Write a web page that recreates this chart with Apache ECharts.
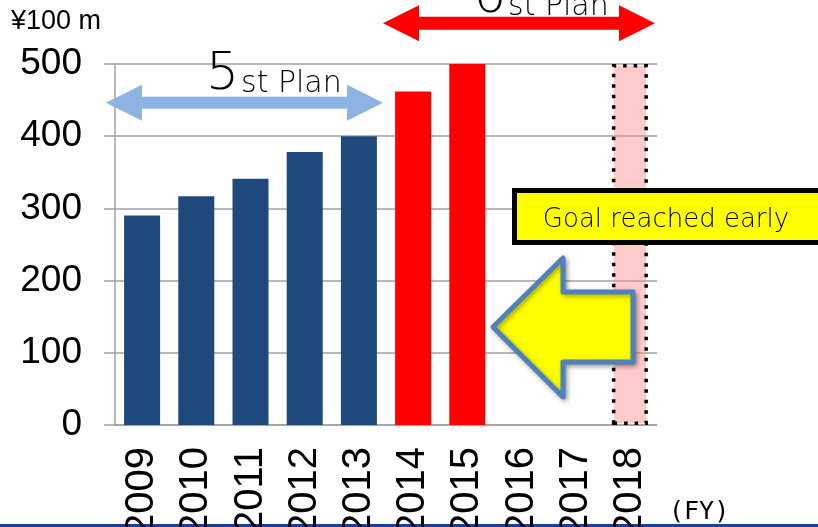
<!DOCTYPE html>
<html><head><meta charset="utf-8">
<script src="https://cdn.jsdelivr.net/npm/echarts@6/dist/echarts.min.js"></script>
<style>html,body{margin:0;padding:0;background:#fff}#c{width:818px;height:527px}</style>
</head><body><div id="c"></div>
<script>
const categories = ['2009','2010','2011','2012','2013','2014','2015','2016','2017','2018'];
const values = [290, 317, 341, 378, 400, 462, 500, null, null, 500];
const barKinds = ['result','result','result','result','result','plan6','plan6','none','none','goal'];
const yTicks = {min: 0, max: 500, interval: 100};

const styles = {
  result: {color: '#1f497d'},
  plan6: {color: '#ff0000'},
  none: {color: 'transparent'},
  goal: {color: 'rgba(255,140,140,0.45)', borderColor: '#000', borderWidth: 3.5, borderType: [3.5, 7]}
};
const barData = values.map((v, i) => ({value: v, itemStyle: styles[barKinds[i]]}));

const chart = echarts.init(document.getElementById('c'), null, {renderer: 'canvas'});
const gray = '#a0a0a0';
function txt(x, y, text, size, family, extra) {
  return Object.assign({type: 'text', z: 11, x: x, y: y,
    style: Object.assign({text: text, fontSize: size, fontFamily: family, fill: '#000'}, extra || {})});
}
const thin = {verticalAlign: 'bottom', fontWeight: 200};
chart.setOption({
  animation: false,
  grid: {left: 115, right: 161, top: 64, bottom: 102, containLabel: false, outerBoundsMode: 'none'},
  xAxis: {
    type: 'category', data: categories,
    axisLine: {lineStyle: {color: gray, width: 1.5}},
    axisTick: {length: 9, lineStyle: {color: gray, width: 1.5}},
    axisLabel: {rotate: 90, margin: 22, fontSize: 40, color: '#000', fontFamily: 'Liberation Sans'}
  },
  yAxis: {
    type: 'value', min: yTicks.min, max: yTicks.max, interval: yTicks.interval,
    axisLine: {show: true, lineStyle: {color: gray, width: 1.5}},
    axisTick: {show: true, length: 11, lineStyle: {color: gray, width: 1.5}},
    splitLine: {lineStyle: {color: gray, width: 1.5}},
    axisLabel: {margin: 33, fontSize: 37, color: '#000', fontFamily: 'Liberation Sans'}
  },
  series: [{
    type: 'bar', data: barData, barWidth: 36, z: 1
  }],
  graphic: [
    {type: 'rect', shape: {x: 0, y: 524, width: 818, height: 3}, style: {fill: '#1b3fa0'}},
    txt(11, 8, '¥100 m', 27, 'Liberation Sans'),
    txt(669, 500, '(FY)', 25, 'DejaVu Sans Mono'),
    {type: 'polygon', z: 10, shape: {points: [[106,102.7],[142,84.7],[142,96.7],[347,96.7],[347,84.7],[383,102.7],[347,120.7],[347,108.7],[142,108.7],[142,120.7]]}, style: {fill: '#8db3e2'}},
    {type: 'polygon', z: 10, shape: {points: [[383,23.3],[419,5.3],[419,16.8],[619,16.8],[619,5.3],[655,23.3],[619,41.3],[619,29.8],[419,29.8],[419,41.3]]}, style: {fill: '#ff0000'}},
    txt(206, 101, '5', 52, 'DejaVu Sans', thin),
    txt(241, 99, 'st Plan', 30, 'DejaVu Sans', thin),
    txt(473, 24, '6', 52, 'DejaVu Sans', thin),
    txt(508, 22, 'st Plan', 30, 'DejaVu Sans', thin),
    {type: 'rect', z: 12, shape: {x: 514.5, y: 190.5, width: 310, height: 52}, style: {fill: '#ffff00', stroke: '#000', lineWidth: 5}},
    Object.assign(txt(666, 220, 'Goal reached early', 26, 'DejaVu Sans', {align: 'center', verticalAlign: 'middle', fontWeight: 200}), {z: 13}),
    {type: 'polygon', z: 12, shape: {points: [[493,327],[563,258],[563,292],[633,292],[633,362],[563,362],[563,397]]}, style: {fill: '#ffff00', stroke: '#4f81bd', lineWidth: 5, lineJoin: 'round', shadowBlur: 5, shadowOffsetX: 2, shadowOffsetY: 2, shadowColor: 'rgba(0,0,0,0.35)'}}
  ]
});
</script></body></html>
